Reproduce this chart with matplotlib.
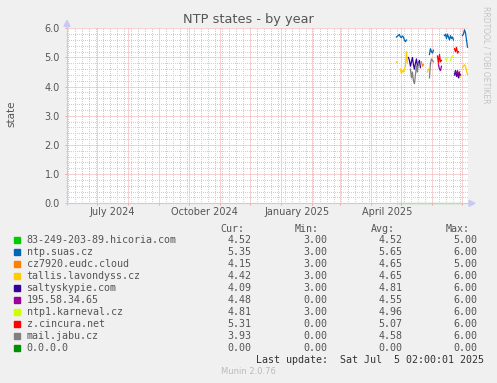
import numpy as np
import pandas as pd
import matplotlib
matplotlib.use("Agg")
import matplotlib.pyplot as plt
import matplotlib.dates as mdates
from matplotlib.patches import Rectangle, Polygon
from matplotlib.lines import Line2D
from matplotlib.ticker import MultipleLocator, FormatStrFormatter

W, H = 497, 383

# legend table
names = ["83-249-203-89.hicoria.com", "ntp.suas.cz", "cz7920.eudc.cloud",
         "tallis.lavondyss.cz", "saltyskypie.com", "195.58.34.65",
         "ntp1.karneval.cz", "z.cincura.net", "mail.jabu.cz", "0.0.0.0"]
colors = ["#00CC00", "#0066B3", "#FF8000", "#FFCC00", "#330099",
          "#990099", "#CCFF00", "#FF0000", "#808080", "#008F00"]
cur = [4.52, 5.35, 4.15, 4.42, 4.09, 4.48, 4.81, 5.31, 3.93, 0.00]
mins = [3.00, 3.00, 3.00, 3.00, 3.00, 0.00, 3.00, 0.00, 0.00, 0.00]
avgs = [4.52, 5.65, 4.65, 4.65, 4.81, 4.55, 4.96, 5.07, 4.58, 0.00]
maxs = [5.00, 6.00, 5.00, 6.00, 6.00, 6.00, 6.00, 6.00, 6.00, 0.00]

# daily samples, (first day, values)
hicoria_seg = []
suas_seg = [("2025-04-26", [5.70, 5.73, 5.76, 5.79, 5.70, 5.68, 5.74, 5.70, 5.60, 5.54, 5.60]),
            ("2025-05-29", [5.10, 5.30, 5.20, 5.15, 5.25]),
            ("2025-06-13", [5.75, 5.80, 5.65, 5.80, 5.70, 5.60, 5.75, 5.65, 5.70, 5.60]),
            ("2025-07-01", [5.75, 5.80, 5.95, 5.85, 5.60, 5.35])]
eudc_seg = [("2025-05-21", [4.85, 4.70, 4.75])]
tallis_seg = [("2025-04-26", [4.85, 4.80]),
              ("2025-04-30", [4.60, 4.45, 4.55, 4.50, 4.60, 4.70, 5.20, 4.80]),
              ("2025-05-27", [4.50, 4.60]),
              ("2025-06-25", [4.40, 4.35, 4.45, 4.30, 4.40]),
              ("2025-07-01", [4.65, 4.70, 4.75, 4.70, 4.55, 4.42])]
salty_seg = [("2025-05-08", [5.00, 4.90, 4.70, 4.85, 5.00, 4.75, 4.60, 4.80, 4.95, 4.70, 4.80, 4.90, 4.65]),
             ("2025-06-23", [4.40, 4.55, 4.35, 4.50, 4.30, 4.45, 4.40])]
ip195_seg = [("2025-06-07", [4.75, 4.60, 4.55, 4.70]),
             ("2025-06-24", [4.50, 4.45, 4.55, 4.40, 4.50])]
karneval_seg = [("2025-06-14", [4.95, 4.90, 5.00]),
                ("2025-06-19", [4.90, 5.00, 5.05])]
cincura_seg = [("2025-06-06", [5.05, 4.80, 5.10, 4.85, 4.90]),
               ("2025-06-23", [5.30, 5.20, 5.35, 5.15, 5.20])]
jabu_seg = [("2025-05-10", [4.60, 4.30, 4.50, 4.20, 4.10, 4.40, 4.70, 4.50, 4.80]),
            ("2025-05-29", [4.30, 4.80, 4.95, 4.90, 4.85])]
zero_seg = [("2025-04-27", [0.0] * 65)]

segments = [hicoria_seg, suas_seg, eudc_seg, tallis_seg, salty_seg,
            ip195_seg, karneval_seg, cincura_seg, jabu_seg, zero_seg]

start = pd.Timestamp("2024-06-01 00:00")
end = pd.Timestamp("2025-07-06 00:00")
month_labels = ["July 2024", "October 2024", "January 2025", "April 2025"]
label_dates = ["2024-07-16 12:00", "2024-10-16 12:00", "2025-01-16 12:00", "2025-04-16 12:00"]

TXT = "#555555"
AXIS = "#C8C8F4"
MAJ = "#EFA4A4"
MIN = "#D0D0D0"


def fx(x):
    return x / W


def fy(y):
    return 1 - y / H


fig = plt.figure(figsize=(W / 100, H / 100), dpi=100, facecolor="#F0F0F0")
ax = fig.add_axes([fx(67), fy(203.3), 400.5 / W, 175 / H])
ax.set_facecolor("white")
for s in ax.spines.values():
    s.set_visible(False)

ax.set_xlim(start, end)
ax.set_ylim(0, 6)

ax.yaxis.set_major_locator(MultipleLocator(1.0))
ax.yaxis.set_minor_locator(MultipleLocator(0.2))
ax.yaxis.set_major_formatter(FormatStrFormatter("%.1f"))
ax.xaxis.set_major_locator(mdates.MonthLocator())
ax.xaxis.set_minor_locator(mdates.WeekdayLocator(byweekday=mdates.SU))
ax.xaxis.set_major_formatter(plt.NullFormatter())

ax.grid(which="minor", color=MIN, linestyle=(0, (1, 2)), linewidth=0.72,
        antialiased=False)
ax.grid(which="major", color=MAJ, linestyle=(0, (1, 1)), linewidth=0.72)
ax.set_axisbelow(True)

ax.tick_params(axis="y", which="major", length=1.5, width=0.72, color=MAJ,
               labelsize=7, labelcolor=TXT, pad=3.5)
ax.tick_params(axis="y", which="minor", length=1.0, width=0.72, color=MIN)
ax.tick_params(axis="x", which="major", length=1.5, width=0.72, color=MAJ)
ax.tick_params(axis="x", which="minor", length=0)

for lab, d in zip(month_labels, label_dates):
    ax.text(pd.Timestamp(d), -0.05, lab, transform=ax.get_xaxis_transform(),
            ha="center", va="center", fontsize=7, color=TXT)

for segs, c, nm in zip(segments, colors, names):
    for first, vals in segs:
        days = pd.date_range(first, periods=len(vals), freq="D")
        alpha = 0.55 if nm == "0.0.0.0" else 1.0
        ax.plot(days, vals, color=c, linewidth=0.9, alpha=alpha, zorder=3,
                clip_on=False)

# axis lines with arrows
fig.add_artist(Line2D([fx(67), fx(67)], [fy(204), fy(25)], color=AXIS, linewidth=0.8))
fig.add_artist(Line2D([fx(66), fx(470)], [fy(203.3), fy(203.3)], color=AXIS, linewidth=0.8))
fig.add_artist(Polygon([(fx(64), fy(26.5)), (fx(70), fy(26.5)), (fx(67), fy(20.5))],
                       closed=True, color=AXIS, transform=fig.transFigure))
fig.add_artist(Polygon([(fx(469), fy(200.3)), (fx(469), fy(206.3)), (fx(475), fy(203.3))],
                       closed=True, color=AXIS, transform=fig.transFigure))

fig.text(fx(248), fy(19), "NTP states - by year", ha="center", va="center",
         fontsize=9.3, color=TXT)
fig.text(fx(11), fy(114), "state", ha="center", va="center", rotation=90,
         fontsize=7.5, color=TXT)
fig.text(fx(486), fy(55), "RRDTOOL / TOBI OETIKER", ha="center", va="center",
         rotation=270, fontsize=5.5, color="#C4C4C4")

# legend
mono = "DejaVu Sans Mono"
for hx, h in zip([244, 319, 395, 470], ["Cur:", "Min:", "Avg:", "Max:"]):
    fig.text(fx(hx), fy(228.5), h, ha="right", va="center", family=mono,
             fontsize=7.2, color=TXT)
for i, nm in enumerate(names):
    yy = 239.7 + 12 * i
    fig.add_artist(Rectangle((fx(14), fy(yy + 3)), 6 / W, 6 / H, color=colors[i],
                             transform=fig.transFigure))
    fig.text(fx(26.5), fy(yy), nm, ha="left", va="center", family=mono,
             fontsize=7.2, color=TXT)
    for vx, v in zip([251.5, 327, 402.5, 477.5], [cur[i], mins[i], avgs[i], maxs[i]]):
        fig.text(fx(vx), fy(yy), f"{v:.2f}", ha="right", va="center",
                 family=mono, fontsize=7.2, color=TXT)

fig.text(fx(483.5), fy(359.7), "Last update:  Sat Jul  5 02:00:01 2025",
         ha="right", va="center", family=mono, fontsize=7.2, color="#333333")
fig.text(fx(248), fy(372), "Munin 2.0.76", ha="center", va="center",
         fontsize=6, color="#BBBBBB")

fig.savefig("out.png", dpi=100, facecolor=fig.get_facecolor())
